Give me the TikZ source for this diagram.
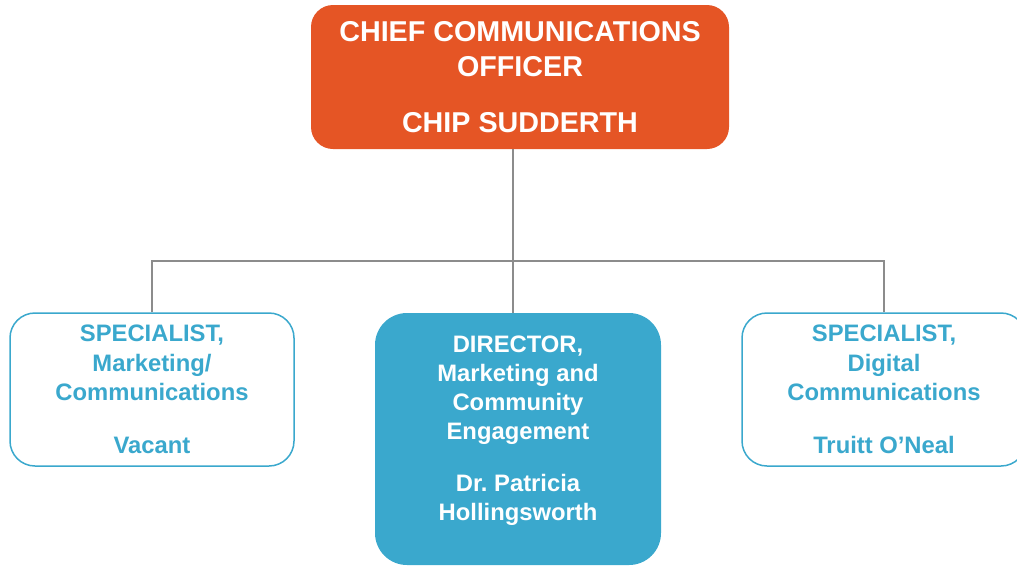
\documentclass[tikz,border=0pt]{standalone}
\usepackage{fontspec}
\setmainfont{Liberation Sans}
\usetikzlibrary{positioning,calc}
\definecolor{cco}{HTML}{E55525}
\definecolor{teal}{HTML}{3AA8CD}
\definecolor{linkgray}{HTML}{8C8C8C}

\begin{document}
\begin{tikzpicture}[
    x=1pt, y=-1pt,
    every node/.style={font=\bfseries},
    topbox/.style={rectangle, rounded corners=22pt, fill=cco, text=white,
        minimum width=418pt, minimum height=144pt, align=center,
        font=\fontsize{28.7}{35}\selectfont\bfseries},
    sidebox/.style={rectangle, rounded corners=25pt, draw=teal, line width=1.5pt,
        fill=white, text=teal, minimum width=284pt, minimum height=153pt,
        align=center, font=\fontsize{23.8}{29.5}\selectfont\bfseries},
    dirbox/.style={rectangle, rounded corners=32pt, fill=teal, text=white,
        minimum width=286pt, minimum height=252pt, align=center,
        font=\fontsize{23.8}{29}\selectfont\bfseries},
    link/.style={draw=linkgray, line width=2pt},
]
\useasboundingbox (0,0) rectangle (1017,566);

% Chief officer
\node[topbox] (cco) at (520,77) {CHIEF COMMUNICATIONS\\OFFICER\\[21pt]CHIP SUDDERTH};

% Reports
\node[sidebox] (mkt) at (152,389.5) {SPECIALIST,\\Marketing/\\Communications\\[23pt]Vacant};
\node[dirbox] (dir) at (518,439) {DIRECTOR,\\Marketing and\\Community\\Engagement\\[23pt]Dr.\ Patricia\\Hollingsworth\rule[-22pt]{0pt}{0pt}};
\node[sidebox] (dig) at (884,389.5) {SPECIALIST,\\Digital\\Communications\\[23pt]Truitt O’Neal};

% Connectors
\coordinate (hub) at (513,261);
\draw[link] (hub |- cco.south) -- (hub |- dir.north);
\draw[link] (mkt.north) |- (hub) -| (dig.north);

\end{tikzpicture}
\end{document}
